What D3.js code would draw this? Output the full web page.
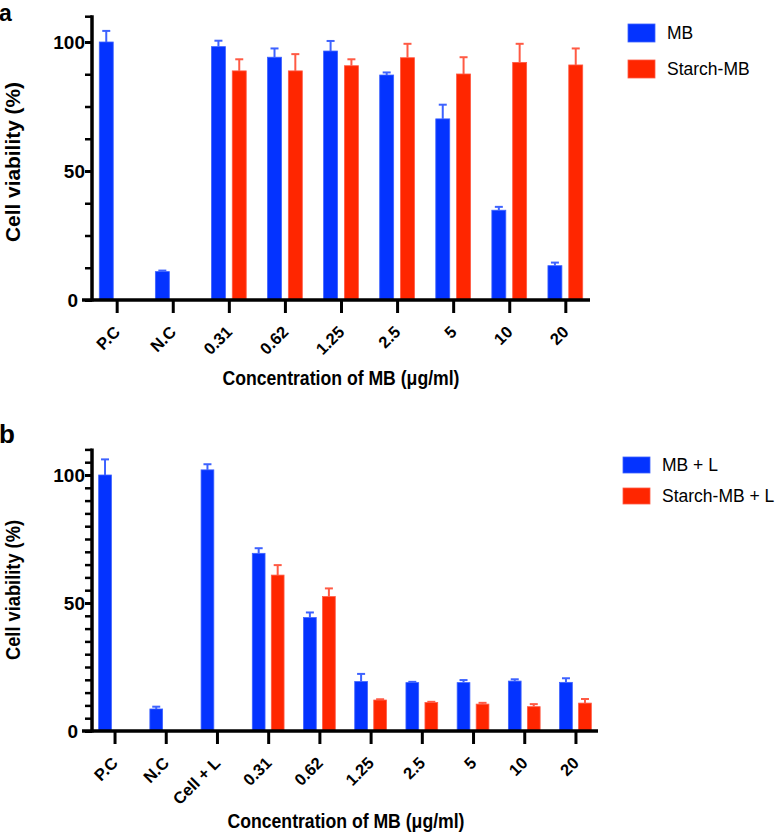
<!DOCTYPE html>
<html>
<head>
<meta charset="utf-8">
<script src="https://cdn.jsdelivr.net/npm/d3@7"></script>
<style>
  html, body { margin: 0; padding: 0; background: #fff; }
  svg { display: block; font-family: "Liberation Sans", Arial, Helvetica, sans-serif; }
</style>
</head>
<body>
<svg id="chart" width="777" height="834"></svg>
<script>
// ---------------- DATA ----------------
const categoriesA = ["P.C", "N.C", "0.31", "0.62", "1.25", "2.5", "5", "10", "20"];
const seriesNamesA = ["MB", "Starch-MB"];
const mbA        = [100, 11.0, 98.2, 94.1, 96.5, 87.2, 70.2, 34.8, 13.3];
const mbErrA     = [4.3, 0.4, 2.3, 3.4, 3.9, 1.0, 5.5, 1.3, 1.2];
const starchA    = [null, null, 88.8, 88.8, 90.8, 93.9, 87.6, 92.1, 91.1];
const starchErrA = [null, null, 4.5, 6.5, 2.5, 5.4, 6.5, 7.2, 6.4];

const categoriesB = ["P.C", "N.C", "Cell + L", "0.31", "0.62", "1.25", "2.5", "5", "10", "20"];
const seriesNamesB = ["MB + L", "Starch-MB + L"];
const mbB        = [100, 8.6, 102.0, 69.4, 44.3, 19.3, 18.9, 18.9, 19.5, 19.0];
const mbErrB     = [6.1, 0.9, 2.2, 2.0, 2.0, 3.0, 0.3, 1.0, 0.7, 1.6];
const starchB    = [null, null, null, 60.9, 52.5, 12.1, 11.1, 10.5, 9.5, 10.9];
const starchErrB = [null, null, null, 3.9, 3.2, 0.3, 0.3, 0.5, 1.0, 1.6];

const yMajorTicks = [0, 50, 100];
const yMinorTicksA = [12.5, 25, 37.5, 62.5, 75, 87.5, 110];
const yMinorTicksB = [5, 10, 15, 20, 25, 30, 35, 40, 45, 55, 60, 65, 70, 75, 80, 85, 90, 95, 105, 110];
const yMax = 110;

const xTitle = "Concentration of MB (\u03bcg/ml)";
const yTitle = "Cell viability (%)";

// ---------------- STYLE ----------------
const BLUE = "#0433ff", BLUE_ERR = "#3d62ff";
const RED = "#ff2600", RED_ERR = "#ff5a44";
const fills = [BLUE, RED], errCols = [BLUE_ERR, RED_ERR];

const svg = d3.select("#chart");

function panel(cfg) {
  const g = svg.append("g");
  const x = d3.scalePoint().domain(cfg.cats).range([cfg.x0, cfg.x1]).padding(0.44);
  const y = d3.scaleLinear().domain([0, yMax]).range([cfg.yBase, cfg.yBase - yMax * cfg.pxPerUnit]);
  const step = x.step();
  const sub = d3.scaleBand().domain([0, 1]).range([-0.31 * step, 0.31 * step]).paddingInner(0.33);

  const series = [
    { vals: cfg.s1, errs: cfg.e1, idx: 0 },
    { vals: cfg.s2, errs: cfg.e2, idx: 1 }
  ];

  // bars + error bars
  series.forEach(s => {
    const data = cfg.cats.map((c, i) => ({ c, v: s.vals[i], e: s.errs[i] })).filter(d => d.v != null);
    const bw = sub.bandwidth();
    g.selectAll(null).data(data).enter().append("rect")
      .attr("x", d => x(d.c) + sub(s.idx))
      .attr("y", d => y(d.v))
      .attr("width", bw)
      .attr("height", d => y(0) - y(d.v))
      .attr("fill", fills[s.idx])
      .attr("stroke", errCols[s.idx])
      .attr("stroke-width", 0.8);
    const eg = g.selectAll(null).data(data).enter().append("g")
      .attr("stroke", errCols[s.idx]).attr("stroke-width", 2);
    eg.append("line")
      .attr("x1", d => x(d.c) + sub(s.idx) + bw / 2)
      .attr("x2", d => x(d.c) + sub(s.idx) + bw / 2)
      .attr("y1", d => y(d.v))
      .attr("y2", d => y(d.v + d.e));
    eg.append("line")
      .attr("x1", d => x(d.c) + sub(s.idx) + bw / 2 - 4)
      .attr("x2", d => x(d.c) + sub(s.idx) + bw / 2 + 4)
      .attr("y1", d => y(d.v + d.e))
      .attr("y2", d => y(d.v + d.e));
  });

  // y axis (major)
  const yAx = g.append("g").attr("transform", `translate(${cfg.x0},0)`)
    .call(d3.axisLeft(y).tickValues(yMajorTicks).tickSize(7).tickSizeOuter(0).tickPadding(1));
  yAx.select(".domain").remove();
  yAx.selectAll(".tick line").attr("stroke", "#000").attr("stroke-width", 3);
  yAx.selectAll(".tick text").attr("font-size", 19).attr("font-weight", "bold").attr("fill", "#000")
    .attr("x", d => d === 0 ? -14 : -7);
  // y axis (minor)
  const yMin = g.append("g").attr("transform", `translate(${cfg.x0},0)`)
    .call(d3.axisLeft(y).tickValues(cfg.minor).tickSize(7).tickSizeOuter(0).tickFormat(""));
  yMin.select(".domain").remove();
  yMin.selectAll(".tick line").attr("stroke", "#000").attr("stroke-width", 2.5);
  // y axis line
  g.append("line").attr("x1", cfg.x0).attr("x2", cfg.x0)
    .attr("y1", y(0) + 1.5).attr("y2", y(yMax) - 1)
    .attr("stroke", "#000").attr("stroke-width", 3.5);

  // x axis
  const xAx = g.append("g").attr("transform", `translate(0,${cfg.yBase})`)
    .call(d3.axisBottom(x).tickSize(13).tickSizeOuter(0));
  xAx.select(".domain").remove();
  xAx.selectAll(".tick line").attr("stroke", "#000").attr("stroke-width", 3);
  xAx.selectAll(".tick text")
    .attr("x", 0).attr("y", 0).attr("dy", 0)
    .attr("transform", "translate(4,33) rotate(-45)")
    .attr("text-anchor", "end")
    .attr("font-size", 16.5).attr("font-weight", "bold").attr("fill", "#000");
  g.append("line").attr("x1", cfg.x0 - 10).attr("x2", cfg.x1)
    .attr("y1", cfg.yBase).attr("y2", cfg.yBase)
    .attr("stroke", "#000").attr("stroke-width", 3.5);

  // titles
  g.append("text").attr("x", cfg.xTitleX).attr("y", cfg.xTitleY)
    .attr("text-anchor", "middle").attr("font-size", 20).attr("font-weight", "bold")
    .attr("textLength", 237).attr("lengthAdjust", "spacingAndGlyphs")
    .text(xTitle);
  g.append("text")
    .attr("transform", `translate(${cfg.yTitleX},${cfg.yTitleY}) rotate(-90)`)
    .attr("text-anchor", "middle").attr("font-size", 20).attr("font-weight", "bold")
    .attr("textLength", cfg.yTitleLen).attr("lengthAdjust", "spacingAndGlyphs")
    .text(yTitle);

  // panel letter
  g.append("text").attr("x", -1).attr("y", cfg.letterY)
    .attr("font-size", cfg.letterSize).attr("font-weight", "bold").text(cfg.letter);

  // legend
  const lg = g.append("g").attr("transform", `translate(${cfg.legX},${cfg.legY})`);
  cfg.names.forEach((n, i) => {
    lg.append("rect").attr("x", 0).attr("y", i * cfg.legGap)
      .attr("width", 27).attr("height", cfg.legH)
      .attr("fill", fills[i]).attr("stroke", errCols[i]).attr("stroke-width", 0.8);
    lg.append("text").attr("x", 39).attr("y", i * cfg.legGap + cfg.legH / 2)
      .attr("dy", "0.35em").attr("font-size", 17.5).text(n);
  });
}

panel({
  cats: categoriesA, s1: mbA, e1: mbErrA, s2: starchA, e2: starchErrA, names: seriesNamesA,
  minor: yMinorTicksA, x0: 92, x1: 590, yBase: 300, pxPerUnit: 2.58,
  xTitleX: 341, xTitleY: 385, yTitleX: 20, yTitleY: 162, yTitleLen: 160,
  letter: "a", letterY: 21, letterSize: 23, legX: 628, legY: 24, legGap: 36, legH: 18
});
panel({
  cats: categoriesB, s1: mbB, e1: mbErrB, s2: starchB, e2: starchErrB, names: seriesNamesB,
  minor: yMinorTicksB, x0: 92, x1: 598, yBase: 731, pxPerUnit: 2.56,
  xTitleX: 346, xTitleY: 828, yTitleX: 20, yTitleY: 590, yTitleLen: 140,
  letter: "b", letterY: 443, letterSize: 26, legX: 623, legY: 457, legGap: 31, legH: 16
});
</script>
</body>
</html>
